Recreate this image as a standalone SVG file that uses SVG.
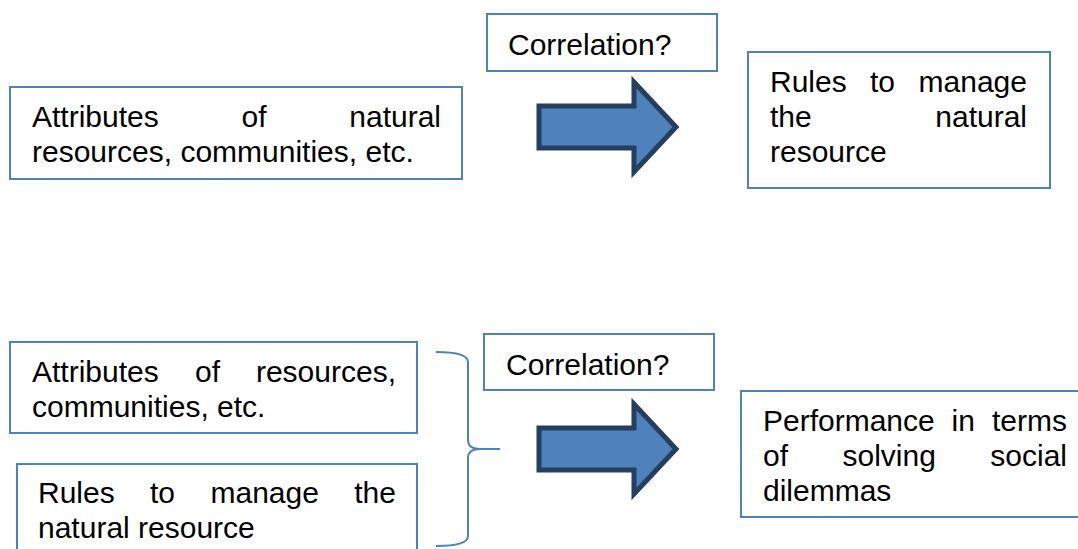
<svg xmlns="http://www.w3.org/2000/svg" width="1078" height="549" viewBox="0 0 1078 549">
<style>
.box{fill:#ffffff;stroke:#4F81BD;stroke-width:2}
.t{font-family:"Liberation Sans",Arial,sans-serif;font-size:30px;fill:#000000}
.arrow{fill:#4F81BD;stroke:#243F60;stroke-width:5;stroke-linejoin:miter}
.brace{fill:none;stroke:#4F81BD;stroke-width:2}
</style>
<rect width="1078" height="549" fill="#ffffff"/>
<g id="corr-top">
<rect class="box" x="487" y="14" width="230" height="57"/>
<text class="t" x="508" y="55">Correlation?</text>
</g>
<g id="attr-top">
<rect class="box" x="10" y="87" width="452" height="92"/>
<text class="t" x="32" y="127">Attributes</text>
<text class="t" x="241.5" y="127">of</text>
<text class="t" x="441" y="127" text-anchor="end">natural</text>
<text class="t" x="32" y="162">resources, communities, etc.</text>
</g>
<g id="rules-top">
<rect class="box" x="748" y="52" width="302" height="136"/>
<text class="t" x="770" y="92">Rules</text>
<text class="t" x="870" y="92">to</text>
<text class="t" x="1027" y="92" text-anchor="end">manage</text>
<text class="t" x="770" y="127">the</text>
<text class="t" x="1027" y="127" text-anchor="end">natural</text>
<text class="t" x="770" y="162">resource</text>
</g>
<g id="corr-bottom">
<rect class="box" x="484" y="334" width="230" height="56"/>
<text class="t" x="506" y="375">Correlation?</text>
</g>
<g id="attr-bottom">
<rect class="box" x="10" y="342" width="407" height="91"/>
<text class="t" x="32" y="382">Attributes</text>
<text class="t" x="195" y="382">of</text>
<text class="t" x="396" y="382" text-anchor="end">resources,</text>
<text class="t" x="32" y="417">communities, etc.</text>
</g>
<g id="rules-bottom">
<rect class="box" x="17" y="464" width="400" height="100"/>
<text class="t" x="38" y="503">Rules</text>
<text class="t" x="150" y="503">to</text>
<text class="t" x="210.5" y="503">manage</text>
<text class="t" x="396" y="503" text-anchor="end">the</text>
<text class="t" x="38" y="538">natural resource</text>
</g>
<g id="performance">
<rect class="box" x="741" y="391" width="350" height="126"/>
<text class="t" x="763" y="431">Performance</text>
<text class="t" x="951.5" y="431">in</text>
<text class="t" x="1067" y="431" text-anchor="end">terms</text>
<text class="t" x="763" y="466">of</text>
<text class="t" x="842.5" y="466">solving</text>
<text class="t" x="1067" y="466" text-anchor="end">social</text>
<text class="t" x="763" y="501">dilemmas</text>
</g>
<g id="connectors">
<path class="arrow" d="M539,106 L634,106 L634,82 L676,127 L634,172 L634,148 L539,148 Z"/>
<path class="arrow" d="M539,428 L634,428 L634,404 L676,449 L634,494 L634,470 L539,470 Z"/>
<path class="brace" d="M436,352 Q468,352 468,362 L468,440 Q468,449 480,449 Q468,449 468,458 L468,536 Q468,546 436,546"/>
<path class="brace" d="M480,449 L500,449"/>
</g>
</svg>
